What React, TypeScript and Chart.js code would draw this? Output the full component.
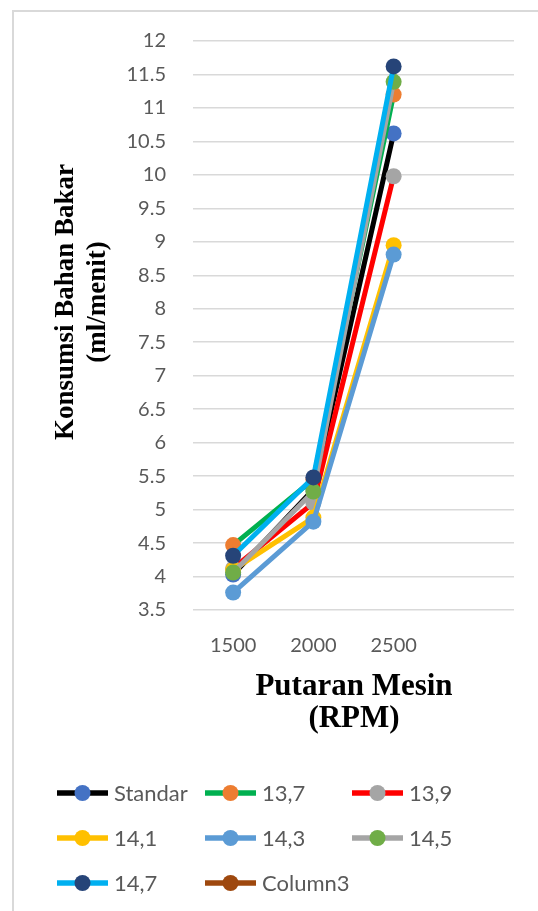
import React, { useEffect, useRef } from "react";
import { Chart, registerables } from "chart.js";

Chart.register(...registerables);

const categories = ["1500", "2000", "2500", ""];
const seriesNames = ["Standar", "13,7", "13,9", "14,1", "14,3", "14,5", "14,7", "Column3"];
const standar = [4.03, 5.3, 10.62];
const s137 = [4.47, 5.45, 11.2];
const s139 = [4.12, 5.1, 9.98];
const s141 = [4.1, 4.88, 8.95];
const s143 = [3.76, 4.82, 8.81];
const s145 = [4.06, 5.27, 11.39];
const s147 = [4.31, 5.48, 11.62];
const column3: (number | null)[] = [null, null, null];
const seriesValues = [standar, s137, s139, s141, s143, s145, s147, column3];
const lineColors = ["#000000", "#00B050", "#FF0000", "#FFC000", "#5B9BD5", "#A5A5A5", "#00B0F0", "#9E480E"];
const markerColors = ["#4472C4", "#ED7D31", "#A5A5A5", "#FFC000", "#5B9BD5", "#70AD47", "#264478", "#9E480E"];
const yTitle = ["Konsumsi Bahan Bakar", "(ml/menit)"];
const xTitle = ["Putaran Mesin", "(RPM)"];
const yMin = 3.5;
const yMax = 12;
const yStep = 0.5;

const SANS = 'Lato, "Open Sans", sans-serif';
const SERIF = '"Liberation Serif", "Times New Roman", serif';

const overlayPlugin = {
  id: "overlay",
  afterDraw(chart: any) {
    const ctx = chart.ctx as CanvasRenderingContext2D;
    ctx.save();
    // Y axis title
    ctx.fillStyle = "#000000";
    ctx.font = `bold 27px ${SERIF}`;
    ctx.textAlign = "center";
    ctx.textBaseline = "middle";
    ctx.save();
    ctx.translate(66, 302);
    ctx.rotate(-Math.PI / 2);
    ctx.fillText(yTitle[0], 0, 0);
    ctx.fillText(yTitle[1], 0, 32);
    ctx.restore();
    // X axis title
    ctx.font = `bold 31px ${SERIF}`;
    ctx.fillText(xTitle[0], 354, 687);
    ctx.fillText(xTitle[1], 354, 719);
    // Legend
    const colX = [57, 205, 352];
    const rowY = [793, 838, 883];
    ctx.font = `22px ${SANS}`;
    ctx.textAlign = "left";
    chart.data.datasets.forEach((ds: any, i: number) => {
      const x0 = colX[i % 3];
      const y0 = rowY[Math.floor(i / 3)];
      ctx.strokeStyle = ds.borderColor;
      ctx.lineWidth = 5.5;
      ctx.beginPath();
      ctx.moveTo(x0, y0);
      ctx.lineTo(x0 + 51, y0);
      ctx.stroke();
      ctx.fillStyle = ds.pointBackgroundColor;
      ctx.beginPath();
      ctx.arc(x0 + 25.5, y0, 8, 0, Math.PI * 2);
      ctx.fill();
      ctx.fillStyle = "#595959";
      ctx.fillText(ds.label, x0 + 57, y0 + 1);
    });
    ctx.restore();
  },
};

export default function App() {
  const canvasRef = useRef<HTMLCanvasElement | null>(null);

  useEffect(() => {
    if (!canvasRef.current) return;
    const n = seriesNames.length;
    const chart = new Chart(canvasRef.current, {
      type: "line",
      data: {
        labels: categories,
        datasets: seriesNames.map((name, i) => ({
          label: name,
          data: seriesValues[i],
          borderColor: lineColors[i],
          backgroundColor: markerColors[i],
          pointBackgroundColor: markerColors[i],
          pointBorderColor: markerColors[i],
          pointBorderWidth: 0,
          pointRadius: 8,
          pointHoverRadius: 8,
          borderWidth: 5,
          tension: 0,
          fill: false,
          order: n - i,
        })),
      },
      options: {
        animation: false,
        responsive: true,
        maintainAspectRatio: false,
        layout: { padding: { top: 41, right: 24, bottom: 0, left: 0 } },
        plugins: {
          legend: { display: false },
          tooltip: { enabled: false },
          title: { display: false },
        },
        scales: {
          x: {
            grid: { display: false, drawTicks: false },
            border: { display: false },
            offset: true,
            ticks: {
              color: "#595959",
              font: { family: SANS, size: 20 },
              padding: 24,
              maxRotation: 0,
              autoSkip: false,
            },
            afterFit(scale: any) {
              scale.height = 301;
            },
          },
          y: {
            min: yMin,
            max: yMax,
            grid: { color: "#D9D9D9", lineWidth: 1.5, drawTicks: false },
            border: { display: false },
            ticks: {
              stepSize: yStep,
              color: "#595959",
              font: { family: SANS, size: 20 },
              padding: 27,
              callback: (v: any) => String(v),
            },
            afterFit(scale: any) {
              scale.width = 193;
            },
          },
        },
      },
      plugins: [overlayPlugin],
    });
    return () => chart.destroy();
  }, []);

  return (
    <div style={{ position: "fixed", left: 0, top: 0, width: 538, height: 911, overflow: "hidden", background: "#ffffff" }}>
      <div
        style={{
          position: "absolute",
          left: 12,
          top: 10,
          width: 600,
          height: 1000,
          border: "2px solid #D9D9D9",
          boxSizing: "border-box",
        }}
      />
      <div style={{ position: "absolute", left: 0, top: 0, width: 538, height: 911 }}>
        <canvas ref={canvasRef} />
      </div>
    </div>
  );
}
